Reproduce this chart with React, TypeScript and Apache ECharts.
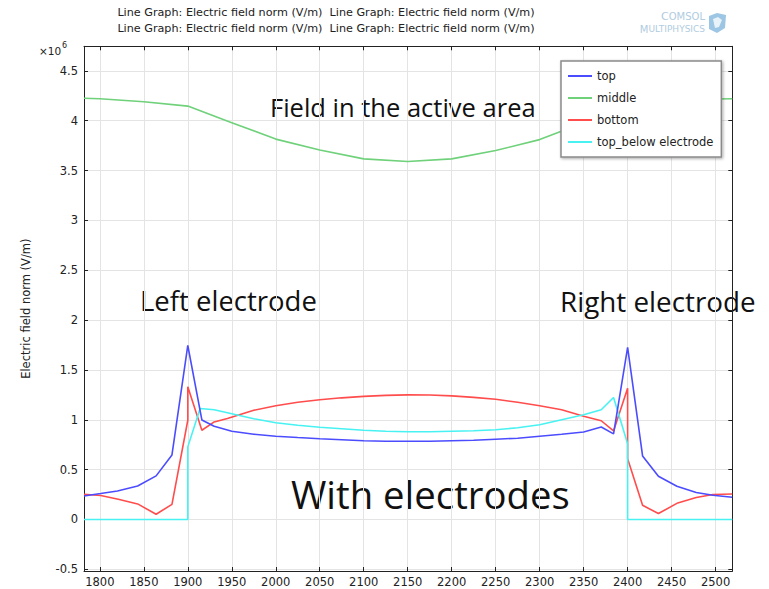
import React, { useEffect, useRef } from "react";
import * as echarts from "echarts";

// ---- data (values in 10^6 V/m) ----
const seriesNames = ["top", "middle", "bottom", "top_below electrode"];

const topX = [1782, 1801, 1820, 1843, 1864, 1882, 1900, 1916, 1930, 1950, 1975, 2000, 2025, 2050, 2075, 2100, 2125, 2150, 2175, 2200, 2225, 2250, 2275, 2300, 2325, 2350, 2370, 2384, 2400, 2417, 2435, 2456, 2478, 2497, 2519];
const topY = [0.236, 0.26, 0.286, 0.336, 0.437, 0.647, 1.745, 0.998, 0.935, 0.885, 0.855, 0.835, 0.822, 0.81, 0.8, 0.79, 0.785, 0.785, 0.785, 0.79, 0.795, 0.805, 0.815, 0.835, 0.855, 0.878, 0.928, 0.858, 1.725, 0.637, 0.433, 0.333, 0.27, 0.243, 0.223];

const middleX = [1782, 1800, 1850, 1900, 1950, 2000, 2050, 2100, 2150, 2200, 2250, 2300, 2350, 2400, 2450, 2500, 2519];
const middleY = [4.225, 4.22, 4.19, 4.146, 3.98, 3.815, 3.705, 3.617, 3.59, 3.617, 3.7, 3.81, 3.98, 4.146, 4.19, 4.217, 4.22];

const bottomX = [1782, 1801, 1821, 1843, 1864, 1882, 1900, 1900, 1916, 1930, 1945, 1975, 2000, 2025, 2050, 2075, 2100, 2125, 2150, 2175, 2200, 2225, 2250, 2275, 2300, 2325, 2350, 2370, 2384, 2400, 2400, 2417, 2435, 2457, 2478, 2497, 2519];
const bottomY = [0.253, 0.24, 0.203, 0.156, 0.052, 0.152, 0.995, 1.33, 0.895, 0.978, 1.012, 1.095, 1.14, 1.175, 1.2, 1.22, 1.235, 1.245, 1.25, 1.248, 1.24, 1.225, 1.205, 1.175, 1.14, 1.1, 1.035, 0.99, 0.888, 1.316, 0.61, 0.142, 0.059, 0.166, 0.22, 0.25, 0.256];

const belowX = [1782, 1900, 1900, 1914, 1930, 1950, 1975, 2000, 2025, 2050, 2075, 2100, 2125, 2150, 2175, 2200, 2225, 2250, 2275, 2300, 2325, 2350, 2370, 2384, 2400, 2400, 2519];
const belowY = [0, 0, 0.728, 1.113, 1.1, 1.06, 1.01, 0.97, 0.945, 0.925, 0.91, 0.895, 0.885, 0.88, 0.88, 0.885, 0.89, 0.9, 0.92, 0.95, 1.0, 1.05, 1.1, 1.223, 0.76, 0, 0];

const titleLine = "Line Graph: Electric field norm (V/m)  Line Graph: Electric field norm (V/m)";
const yAxisName = "Electric field norm (V/m)";
const annotations = ["Field in the active area", "Left electrode", "Right electrode", "With electrodes"];

const X_MIN = 1782;
const X_MAX = 2519;
const Y_MIN = -0.517;
const Y_MAX = 4.746;

const colors = ["#4c4cff", "#6fd17a", "#ff4c4c", "#48f2f2"];
const FONT = "DejaVu Sans";
const BIG = "Open Sans";
const LOGO = "#b0cce0";

function pairs(xs: number[], ys: number[]) {
  return xs.map((x, i) => [x, ys[i]]);
}

export default function App() {
  const ref = useRef<HTMLDivElement>(null);
  useEffect(() => {
    document.body.style.margin = "0";
    const chart = echarts.init(ref.current!, null, { renderer: "svg" });
    const axisLine = { show: true, onZero: false, lineStyle: { color: "#222", width: 1 } };
    const tick = { show: true, inside: true, length: 4, lineStyle: { color: "#222" } };
    const xCommon = {
      type: "value" as const,
      min: X_MIN,
      max: X_MAX,
      minInterval: 50,
      maxInterval: 50,
      splitNumber: 15,
      axisLine,
      axisTick: tick,
    };
    const yCommon = {
      type: "value" as const,
      min: Y_MIN,
      max: Y_MAX,
      minInterval: 0.5,
      maxInterval: 0.5,
      splitNumber: 10,
      axisLine,
      axisTick: tick,
    };
    const lists = [
      pairs(topX, topY),
      pairs(middleX, middleY),
      pairs(bottomX, bottomY),
      pairs(belowX, belowY),
    ];
    chart.setOption({
      animation: false,
      grid: { left: 84, right: 36.7, top: 46.3, bottom: 18 },
      legend: {
        orient: "vertical",
        left: 561,
        top: 61,
        data: seriesNames,
        icon: "rect",
        itemWidth: 24,
        itemHeight: 2,
        itemGap: 8,
        padding: [8, 8, 8, 7],
        backgroundColor: "#fff",
        borderColor: "#8a8a8a",
        borderWidth: 1.5,
        shadowColor: "rgba(0,0,0,0.35)",
        shadowBlur: 3,
        shadowOffsetX: 1,
        shadowOffsetY: 1,
        textStyle: { fontFamily: FONT, fontSize: 11.5, color: "#222", lineHeight: 14, height: 14 },
      },
      xAxis: [
        {
          ...xCommon,
          position: "bottom",
          axisLabel: {
            showMinLabel: false,
            showMaxLabel: false,
            fontFamily: FONT,
            fontSize: 11.5,
            color: "#222",
            margin: 5,
            formatter: (v: number) => String(v),
          },
          splitLine: { show: true, lineStyle: { color: "#e4e4e4", width: 1 } },
        },
        {
          ...xCommon,
          position: "top",
          axisLabel: { show: false },
          splitLine: { show: false },
        },
      ],
      yAxis: [
        {
          ...yCommon,
          position: "left",
          name: yAxisName,
          nameLocation: "middle",
          nameGap: 52,
          nameTextStyle: { fontFamily: FONT, fontSize: 11.5, color: "#222" },
          axisLabel: { showMinLabel: false, showMaxLabel: false, fontFamily: FONT, fontSize: 11.5, color: "#222", margin: 6 },
          splitLine: { show: true, lineStyle: { color: "#e4e4e4", width: 1 } },
        },
        {
          ...yCommon,
          position: "right",
          axisLabel: { show: false },
          splitLine: { show: false },
        },
      ],
      series: seriesNames.map((name, i) => ({
        name,
        type: "line",
        xAxisIndex: 0,
        yAxisIndex: 0,
        data: lists[i],
        showSymbol: false,
        symbol: "none",
        lineStyle: { color: colors[i], width: 1.6 },
        itemStyle: { color: colors[i] },
        z: i === 0 ? 5 : 3,
      })),
      graphic: [
        { type: "text", x: 326, y: 12, style: { text: titleLine, fontFamily: FONT, fontSize: 11.2, fill: "#222", align: "center", verticalAlign: "middle" } },
        { type: "text", x: 326, y: 28, style: { text: titleLine, fontFamily: FONT, fontSize: 11.2, fill: "#222", align: "center", verticalAlign: "middle" } },
        { type: "text", x: 39, y: 51, style: { text: "×10", fontFamily: FONT, fontSize: 10.5, fill: "#222", align: "left", verticalAlign: "middle" } },
        { type: "text", x: 62, y: 45, style: { text: "6", fontFamily: FONT, fontSize: 8, fill: "#222", align: "left", verticalAlign: "middle" } },
        { type: "text", x: 270, y: 107, style: { text: annotations[0], fontFamily: BIG, fontSize: 25.5, fill: "#111", align: "left", verticalAlign: "middle" } },
        { type: "text", x: 140, y: 300, style: { text: annotations[1], fontFamily: BIG, fontSize: 27.5, fill: "#111", align: "left", verticalAlign: "middle" } },
        { type: "text", x: 560, y: 301, style: { text: annotations[2], fontFamily: BIG, fontSize: 27.8, fill: "#111", align: "left", verticalAlign: "middle" } },
        { type: "text", x: 291, y: 494, style: { text: annotations[3], fontFamily: BIG, fontSize: 38.3, fill: "#111", align: "left", verticalAlign: "middle" } },
        {
          type: "text", x: 705, y: 16,
          style: {
            text: "{b|C}{s|OMSOL}",
            align: "right", verticalAlign: "middle",
            rich: {
              b: { fontFamily: FONT, fontSize: 11, fill: LOGO },
              s: { fontFamily: FONT, fontSize: 10, fill: LOGO },
            },
          },
        },
        {
          type: "text", x: 705, y: 29,
          style: {
            text: "{b|M}{s|ULTIPHYSICS}",
            align: "right", verticalAlign: "middle",
            rich: {
              b: { fontFamily: FONT, fontSize: 10, fill: LOGO },
              s: { fontFamily: FONT, fontSize: 9, fill: LOGO },
            },
          },
        },
        {
          type: "polygon",
          shape: { points: [[709, 16], [717, 13], [726, 15], [725, 28], [717, 33], [709, 29]] },
          style: { fill: "#9cc6e3" },
        },
        {
          type: "polygon",
          shape: { points: [[713, 19], [718, 17], [722, 20], [719, 27], [715, 28]] },
          style: { fill: "#e8f2f9" },
        },
      ],
    });
    return () => chart.dispose();
  }, []);
  return <div ref={ref} style={{ position: "absolute", left: 0, top: 0, width: 769, height: 589 }} />;
}
